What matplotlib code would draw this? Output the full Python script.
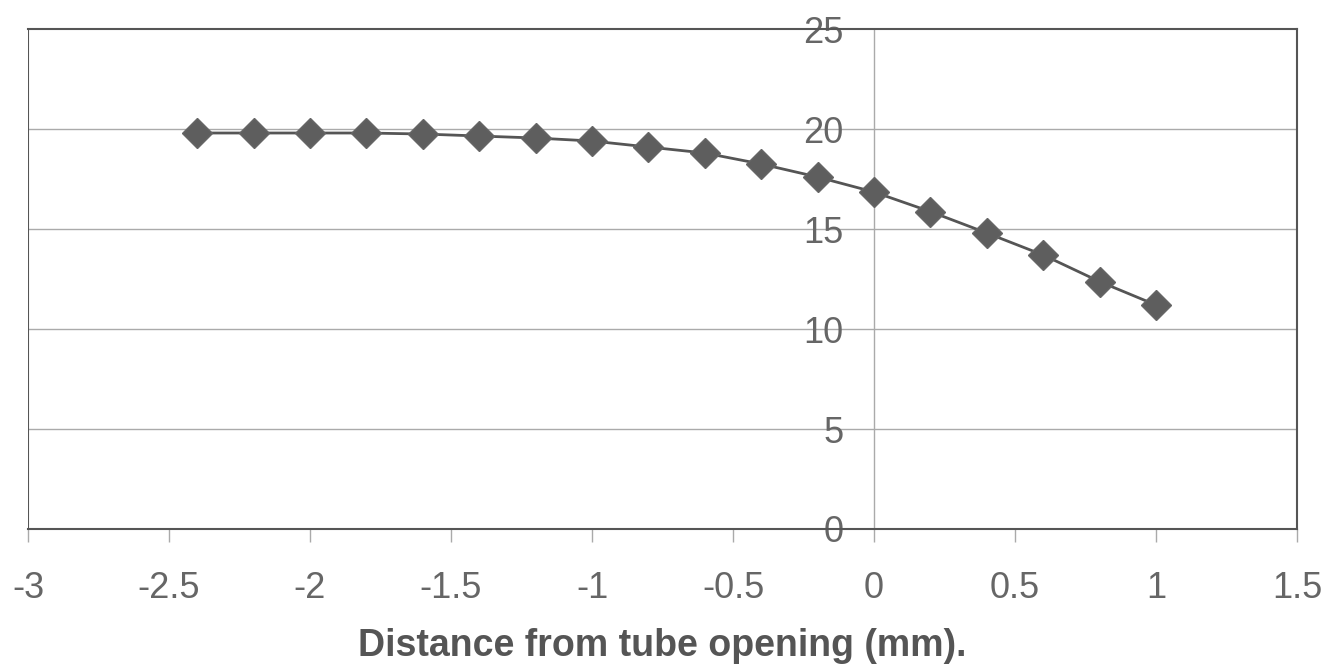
import numpy as np
import matplotlib.pyplot as plt

# distance from tube opening (mm) and measured value
dist = [-2.4, -2.2, -2.0, -1.8, -1.6, -1.4, -1.2, -1.0, -0.8, -0.6,
        -0.4, -0.2, 0.0, 0.2, 0.4, 0.6, 0.8, 1.0]
vals = [19.8, 19.8, 19.8, 19.8, 19.75, 19.65, 19.55, 19.4, 19.1, 18.8,
        18.25, 17.6, 16.85, 15.87, 14.8, 13.7, 12.37, 11.2]
xticks = [-3, -2.5, -2, -1.5, -1, -0.5, 0, 0.5, 1, 1.5]
yticks = [0, 5, 10, 15, 20, 25]

plt.rcParams['font.family'] = ['Liberation Sans', 'DejaVu Sans']

fig = plt.figure(figsize=(13.27, 6.67), dpi=100)
ax = fig.add_axes([0.0211, 0.2069, 0.9563, 0.7496])

ax.set_xlim(-3, 1.5)
ax.set_ylim(0, 25)

# horizontal grid only
for yv in yticks[1:-1]:
    ax.axhline(yv, color='#aaaaaa', lw=1, zorder=1)

ax.plot(dist, vals, color='#555555', lw=2, marker='D', markersize=15,
        markerfacecolor='#5e5e5e', markeredgecolor='#666666', zorder=3)

# y axis sits at x = 0
ax.spines['left'].set_position(('data', 0))
ax.spines['left'].set_color('#aaaaaa')
ax.spines['left'].set_linewidth(1)
ax.axvline(-3, color='#555555', lw=1.5, zorder=2)
for s in ['top', 'right', 'bottom']:
    ax.spines[s].set_color('#555555')
    ax.spines[s].set_linewidth(1.5)

ax.set_xticks(xticks)
ax.set_xticklabels([f'{t:g}' for t in xticks])
ax.set_yticks(yticks)
ax.tick_params(axis='x', direction='out', length=9, width=1, color='#aaaaaa',
               pad=21, labelsize=26, labelcolor='#666666')
ax.tick_params(axis='y', length=0, pad=22, labelsize=26, labelcolor='#666666')

ax.set_xlabel('Distance from tube opening (mm).', fontsize=27, fontweight='bold',
              color='#555555', labelpad=16)

fig.savefig('out.png', dpi=100)
